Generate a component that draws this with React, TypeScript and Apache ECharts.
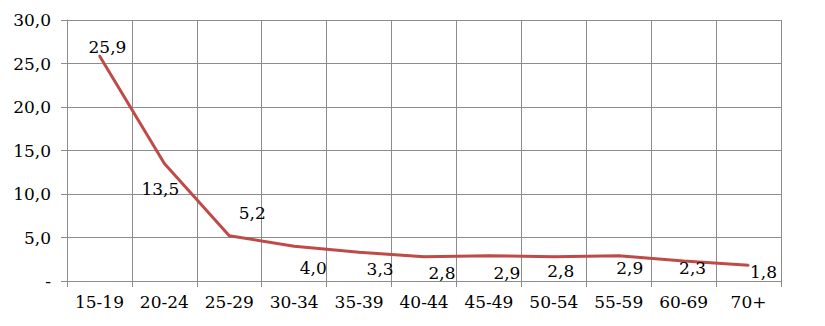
import React, { useEffect, useRef } from "react";
import * as echarts from "echarts";

const categories = ["15-19", "20-24", "25-29", "30-34", "35-39", "40-44", "45-49", "50-54", "55-59", "60-69", "70+"];
const values = [25.9, 13.5, 5.2, 4.0, 3.3, 2.8, 2.9, 2.8, 2.9, 2.3, 1.8];
const labelOffsets: [number, number][] = [
  [8, -9], [-4, 25], [23, -23], [19, 22], [21, 17], [18, 16], [18, 17], [7, 14], [11, 12], [9, 7], [15, 7],
];

const fmt = (v: number) => (v === 0 ? "-" : v.toFixed(1).replace(".", ","));
const FONT = "DejaVu Serif";
const FS = 17;

export default function App() {
  const ref = useRef<HTMLDivElement>(null);
  useEffect(() => {
    if (!ref.current) return;
    const chart = echarts.init(ref.current, null, { renderer: "svg" });
    chart.setOption({
      animation: false,
      backgroundColor: "#ffffff",
      textStyle: { fontFamily: FONT, fontSize: FS, color: "#000" },
      grid: { left: 59, right: 36, top: 12, bottom: 37 },
      xAxis: {
        type: "category",
        data: categories,
        boundaryGap: true,
        axisLine: { lineStyle: { color: "#8c8c8c", width: 1 } },
        axisTick: { show: true, alignWithLabel: false, length: 6, lineStyle: { color: "#8c8c8c" } },
        splitLine: { show: true, lineStyle: { color: "#8c8c8c", width: 1 } },
        axisLabel: { color: "#000", fontFamily: FONT, fontSize: FS, margin: 12 },
      },
      yAxis: {
        type: "value",
        min: 0,
        max: 30,
        interval: 5,
        axisLine: { show: true, lineStyle: { color: "#8c8c8c", width: 1 } },
        axisTick: { show: true, length: 6, lineStyle: { color: "#8c8c8c" } },
        splitLine: { show: true, lineStyle: { color: "#8c8c8c", width: 1 } },
        axisLabel: { color: "#000", fontFamily: FONT, fontSize: FS, margin: 16, formatter: (v: number) => fmt(v) },
      },
      series: [
        {
          type: "line",
          data: values.map((v, i) => ({
            value: v,
            label: { offset: labelOffsets[i] },
          })),
          symbol: "circle",
          symbolSize: 2,
          showSymbol: true,
          lineStyle: { color: "#BE4B48", width: 3 },
          itemStyle: { color: "#BE4B48" },
          label: {
            show: true,
            position: "inside",
            color: "#000",
            fontFamily: FONT,
            fontSize: FS,
            formatter: (p: any) => fmt(p.value),
          },
        },
      ],
    });
    return () => chart.dispose();
  }, []);
  return <div ref={ref} style={{ width: 809, height: 310 }} />;
}
